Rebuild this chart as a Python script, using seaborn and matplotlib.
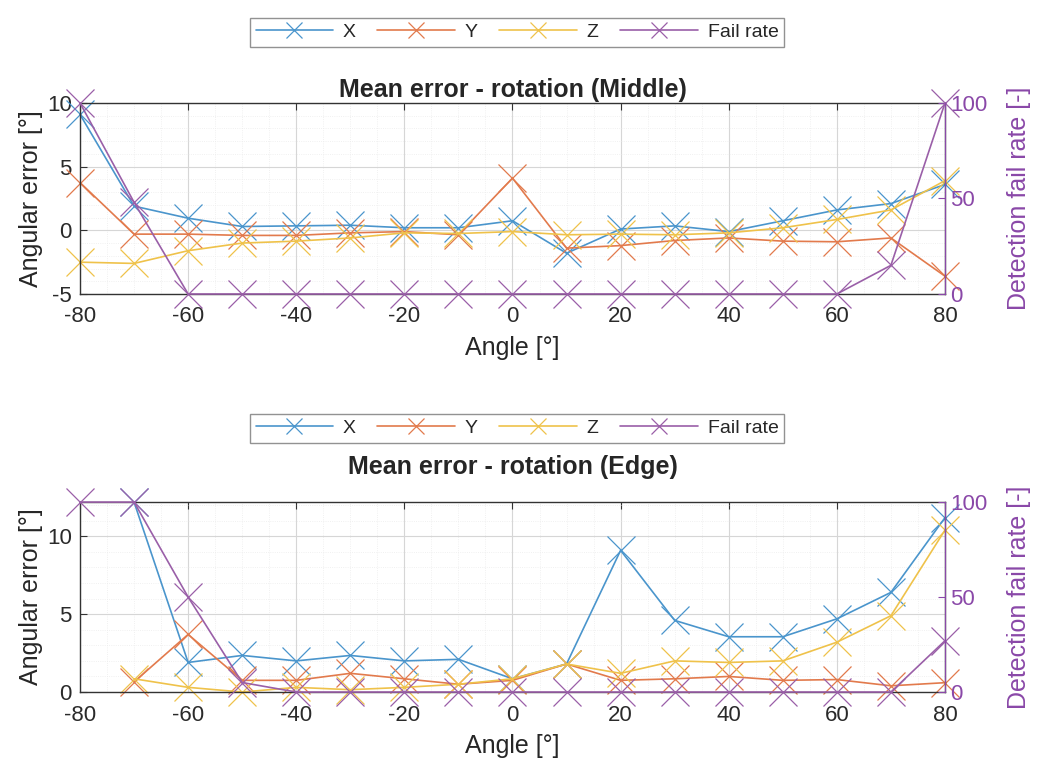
import numpy as np
import pandas as pd
import seaborn as sns
import matplotlib.pyplot as plt
from matplotlib.ticker import MultipleLocator

# Rotation angles [deg]
angles = [-80, -70, -60, -50, -40, -30, -20, -10, 0, 10, 20, 30, 40, 50, 60, 70, 80]

# Middle placement: mean angular error per axis [deg] and detection fail rate [-]
mid_x = [9.1, 1.9, 0.95, 0.3, 0.35, 0.4, 0.2, 0.2, 0.75, -1.8, 0.1, 0.35, -0.1, 0.75, 1.6, 2.1, 3.6]
mid_y = [3.75, -0.3, -0.3, -0.4, -0.4, -0.2, -0.1, -0.35, 4.1, -1.4, -1.2, -0.8, -0.6, -0.85, -0.9, -0.6, -3.6]
mid_z = [-2.5, -2.6, -1.6, -1.0, -0.85, -0.6, -0.2, -0.25, -0.1, -0.35, -0.3, -0.35, -0.2, 0.2, 0.85, 1.6, 3.9]
mid_fail = [100, 48, 0, 0, 0, 0, 0, 0, 0, 0, 0, 0, 0, 0, 0, 15, 100]

# Edge placement
edge_x = [np.nan, 12.2, 1.9, 2.35, 2.0, 2.35, 2.0, 2.1, 0.85, 1.8, 9.1, 4.6, 3.55, 3.55, 4.7, 6.4, 11.2]
edge_y = [np.nan, 0.65, 3.7, 0.75, 0.75, 1.2, 0.85, 0.5, 0.75, 1.8, 0.75, 0.85, 1.0, 0.75, 0.8, 0.4, 0.6]
edge_z = [np.nan, 0.85, 0.3, 0.0, 0.3, 0.15, 0.3, 0.5, 0.85, 1.8, 1.2, 2.0, 1.9, 2.0, 3.2, 4.9, 10.4]
edge_fail = [100, 100, 50, 5, 0, 0, 0, 0, 0, 0, 0, 0, 0, 0, 0, 0, 27]

series_names = ["X", "Y", "Z", "Fail rate"]
colors = ["#4a95cc", "#e27a4c", "#efc24a", "#9a5fa8"]
fail_axis_color = "#8a48a8"

sns.set_style("white")
plt.rcParams["font.family"] = ["Liberation Sans", "DejaVu Sans"]
plt.rcParams["axes.unicode_minus"] = False

fig = plt.figure(figsize=(10.39, 7.69), dpi=100)


def line_kw(col):
    return dict(color=col, marker="x", markersize=20, markeredgewidth=0.9,
                markeredgecolor=col, linewidth=1.2, clip_on=False, legend=False)


def draw_panel(rect, xs, ys, zs, fail, title, ylim, yticks, title_pad, legend_y):
    ax = fig.add_axes(rect)
    df = pd.DataFrame({"angle": angles, "X": xs, "Y": ys, "Z": zs})
    for name, col in zip(["X", "Y", "Z"], colors[:3]):
        sns.lineplot(data=df, x="angle", y=name, ax=ax, label=name, **line_kw(col))

    ax.set_xlim(-80, 80)
    ax.set_ylim(*ylim)
    ax.set_xticks(range(-80, 81, 20))
    ax.set_yticks(yticks)
    ax.xaxis.set_minor_locator(MultipleLocator(5))
    ax.yaxis.set_minor_locator(MultipleLocator(1))
    ax.grid(which="major", color="#d6d6d6", linewidth=0.8)
    ax.grid(which="minor", color="#ececec", linewidth=0.6, linestyle=":")
    ax.set_axisbelow(True)
    ax.tick_params(axis="both", which="major", direction="in", length=5,
                   labelsize=16, top=True, color="#333333", labelcolor="#2a2a2a")
    ax.tick_params(axis="x", which="major", pad=9)
    ax.tick_params(axis="y", which="major", pad=6)
    ax.tick_params(axis="both", which="minor", length=0)
    for s in ax.spines.values():
        s.set_color("#333333")
        s.set_linewidth(1.0)
    ax.set_xlabel("Angle [°]", fontsize=18, labelpad=6)
    ax.set_ylabel("Angular error [°]", fontsize=18, labelpad=3)
    ax.set_title(title, fontsize=18, fontweight="bold", pad=title_pad)

    ax2 = ax.twinx()
    fdf = pd.DataFrame({"angle": angles, "fail": fail})
    sns.lineplot(data=fdf, x="angle", y="fail", ax=ax2, label="Fail rate",
                 **line_kw(colors[3]))
    ax2.set_ylim(0, 100)
    ax2.set_yticks([0, 50, 100])
    ax2.set_ylabel("Detection fail rate [-]", fontsize=18, color=fail_axis_color, labelpad=14)
    ax2.tick_params(axis="y", direction="in", length=5, labelsize=16,
                    colors=fail_axis_color, pad=4)
    ax2.spines["right"].set_color(fail_axis_color)
    for side in ["left", "top", "bottom"]:
        ax2.spines[side].set_visible(False)
    ax2.grid(False)

    handles = ax.get_lines()[:3] + ax2.get_lines()[:1]
    leg = fig.legend(handles, series_names, loc="center",
                     bbox_to_anchor=(0.4976, legend_y), ncol=4, frameon=True,
                     fancybox=False, edgecolor="#777777", fontsize=14,
                     handlelength=4.0, markerscale=0.55, columnspacing=1.1,
                     handletextpad=0.5, borderpad=0.3)
    leg.get_frame().set_linewidth(1.0)
    return ax, ax2


draw_panel([0.077, 0.6177, 0.8325, 0.2484], mid_x, mid_y, mid_z, mid_fail,
           "Mean error - rotation (Middle)", (-5, 10), [-5, 0, 5, 10], 4, 0.958)
draw_panel([0.077, 0.1001, 0.8325, 0.247], edge_x, edge_y, edge_z, edge_fail,
           "Mean error - rotation (Edge)", (0, 12.2), [0, 5, 10], 20, 0.443)

fig.savefig("out.png", dpi=100)
